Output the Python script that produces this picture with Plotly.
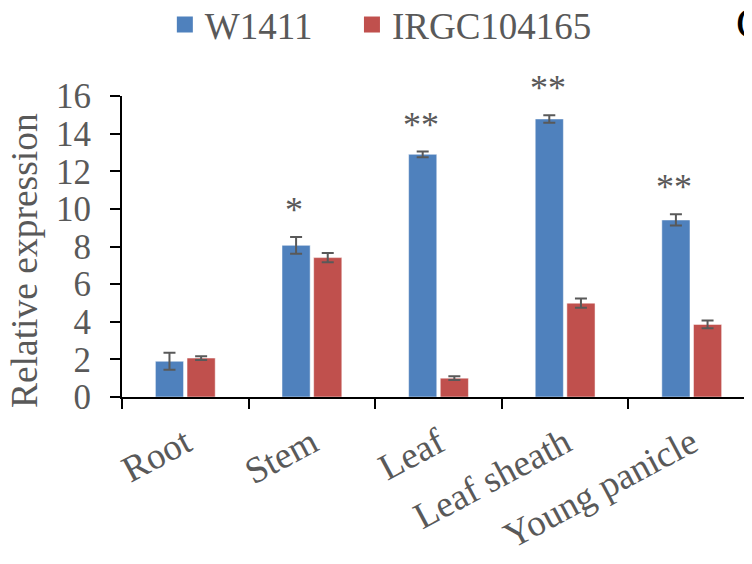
import plotly.graph_objects as go

categories = ["Root", "Stem", "Leaf", "Leaf sheath", "Young panicle"]
w1411 = [1.9, 8.06, 12.9, 14.78, 9.41]
w1411_err = [0.45, 0.45, 0.15, 0.2, 0.3]
irgc = [2.07, 7.41, 1.0, 4.99, 3.86]
irgc_err = [0.1, 0.25, 0.1, 0.25, 0.2]
sig_labels = ["", "*", "**", "**", "**"]
y_ticks = [0, 2, 4, 6, 8, 10, 12, 14, 16]

BLUE = "#4F81BD"
RED = "#C0504D"
GREY = "#595959"
FONT = "Liberation Serif"

fig = go.Figure()
fig.add_trace(go.Bar(
    x=categories, y=w1411, name="W1411", marker_color=BLUE,
    marker_line=dict(color="white", width=0.5),
    error_y=dict(type="data", array=w1411_err, color=GREY, thickness=2, width=6),
    showlegend=False,
))
fig.add_trace(go.Bar(
    x=categories, y=irgc, name="IRGC104165", marker_color=RED,
    marker_line=dict(color="white", width=0.5),
    error_y=dict(type="data", array=irgc_err, color=GREY, thickness=2, width=6),
    showlegend=False,
))
# legend entries with square symbols, one legend box each
for name, col, lg in [("W1411", BLUE, "legend"), ("IRGC104165", RED, "legend2")]:
    fig.add_trace(go.Scatter(
        x=[None], y=[None], mode="markers", name=name, legend=lg,
        marker=dict(symbol="square", size=19, color=col),
    ))

for i, lab in enumerate(sig_labels):
    if lab:
        fig.add_annotation(
            x=i - 0.138, y=w1411[i] + w1411_err[i], xref="x", yref="y",
            text=lab, showarrow=False,
            font=dict(family=FONT, size=36, color=GREY), yshift=27,
        )

# y-axis title
fig.add_annotation(
    x=-0.1555, y=0.4518, xref="paper", yref="paper", text="Relative expression",
    showarrow=False, textangle=-90, xanchor="center", yanchor="middle",
    font=dict(family=FONT, size=37.5, color=GREY),
)

# panel letter, partly cut by the right edge as in the source
fig.add_annotation(
    x=0.972, y=1.24, xref="paper", yref="paper", text="C", showarrow=False,
    xanchor="left", yanchor="middle", font=dict(family=FONT, size=44, color="black"),
)

legend_common = dict(
    orientation="h", y=1.236, xanchor="left", yanchor="middle",
    font=dict(family=FONT, size=37, color=GREY), bgcolor="rgba(0,0,0,0)",
)

fig.update_layout(
    width=744, height=556,
    margin=dict(l=114, r=0, t=88, b=167, autoexpand=False),
    paper_bgcolor="white", plot_bgcolor="white",
    barmode="group", bargap=0.5, bargroupgap=0.11,
    font=dict(family=FONT, color=GREY, size=34),
    legend=dict(x=0.068, **legend_common),
    legend2=dict(x=0.365, **legend_common),
    xaxis=dict(
        type="category", range=[-0.5, 4.476], tickson="boundaries",
        ticks="outside", ticklen=10, tickwidth=2, tickcolor="black",
        showline=True, linecolor="black", linewidth=2,
        tickangle=-28, tickfont=dict(family=FONT, size=37, color=GREY),
        ticklabelstandoff=8,
        showgrid=False, zeroline=False,
    ),
    yaxis=dict(
        range=[0, 16], tickvals=y_ticks, ticks="outside", ticklen=10, tickwidth=2,
        tickcolor="black", showline=True, linecolor="black", linewidth=2,
        tickfont=dict(family=FONT, size=35, color=GREY), ticklabelstandoff=12,
        showgrid=False, zeroline=False,
    ),
)

fig.write_html("out.html")
